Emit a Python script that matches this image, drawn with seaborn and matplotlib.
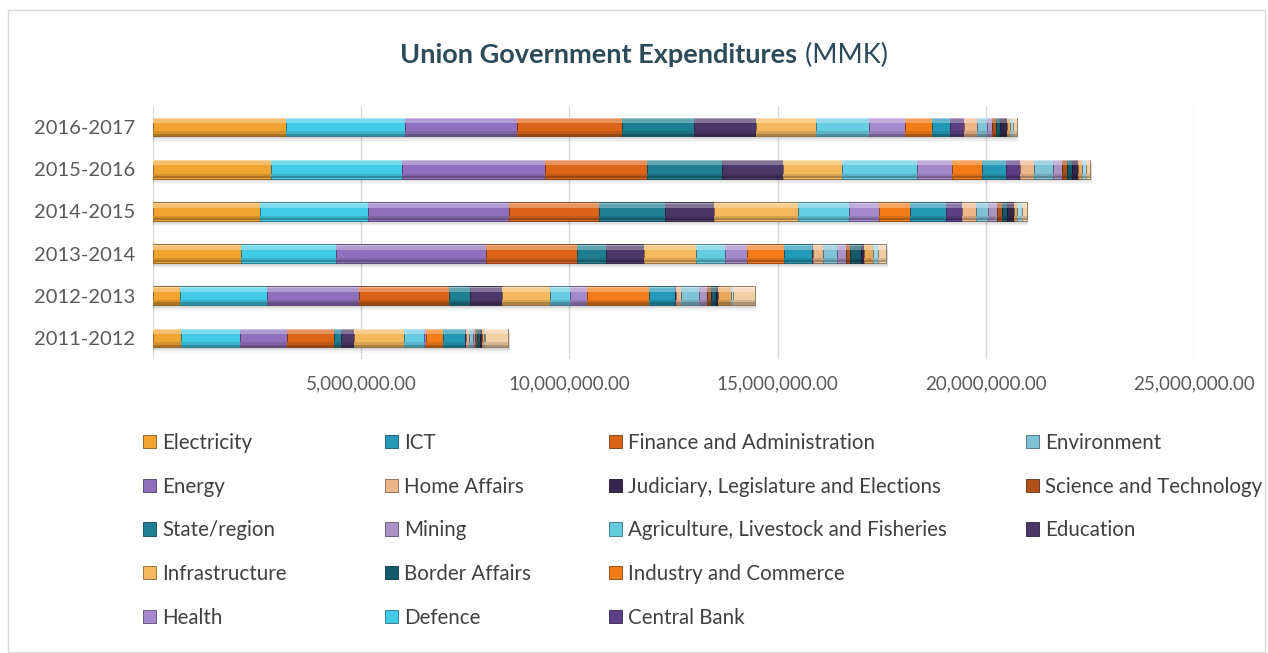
import matplotlib
matplotlib.use("Agg")
import numpy as np
import matplotlib.pyplot as plt
import matplotlib.patches as mpatches
import matplotlib.colors as mcolors
from matplotlib.ticker import FuncFormatter, MultipleLocator
import seaborn as sns

# values in millions of MMK, one entry per fiscal year (bottom to top)
years = ["2011-2012", "2012-2013", "2013-2014", "2014-2015", "2015-2016", "2016-2017"]

electricity = [0.67, 0.64, 2.12, 2.58, 2.84, 3.19]
defence = [1.43, 2.09, 2.27, 2.58, 3.15, 2.87]
energy = [1.11, 2.22, 3.60, 3.39, 3.42, 2.68]
finance = [1.14, 2.16, 2.20, 2.15, 2.45, 2.52]
state_region = [0.17, 0.51, 0.69, 1.60, 1.81, 1.73]
education = [0.31, 0.76, 0.91, 1.18, 1.47, 1.49]
infrastructure = [1.19, 1.16, 1.25, 2.00, 1.40, 1.45]
agriculture = [0.48, 0.48, 0.69, 1.23, 1.80, 1.27]
health = [0.06, 0.41, 0.54, 0.72, 0.84, 0.85]
industry = [0.41, 1.47, 0.88, 0.76, 0.72, 0.66]
ict = [0.53, 0.64, 0.68, 0.86, 0.58, 0.44]
central_bank = [0.02, 0.02, 0.03, 0.39, 0.34, 0.32]
home_affairs = [0.07, 0.13, 0.23, 0.33, 0.33, 0.31]
environment = [0.10, 0.42, 0.34, 0.29, 0.47, 0.24]
mining = [0.05, 0.19, 0.21, 0.22, 0.20, 0.14]
science_tech = [0.04, 0.10, 0.09, 0.10, 0.12, 0.08]
border_affairs = [0.08, 0.12, 0.28, 0.14, 0.12, 0.10]
judiciary = [0.04, 0.04, 0.06, 0.16, 0.16, 0.16]
# small tail segments that have no legend entry in the original
tail_a = [0.04, 0.31, 0.21, 0.08, 0.08, 0.07]
tail_b = [0.04, 0.06, 0.14, 0.12, 0.10, 0.09]
tail_c = [0.55, 0.52, 0.18, 0.10, 0.10, 0.08]

stack = [
    ("Electricity", electricity),
    ("Defence", defence),
    ("Energy", energy),
    ("Finance and Administration", finance),
    ("State/region", state_region),
    ("Education", education),
    ("Infrastructure", infrastructure),
    ("Agriculture, Livestock and Fisheries", agriculture),
    ("Health", health),
    ("Industry and Commerce", industry),
    ("ICT", ict),
    ("Central Bank", central_bank),
    ("Home Affairs", home_affairs),
    ("Environment", environment),
    ("Mining", mining),
    ("Science and Technology", science_tech),
    ("Border Affairs", border_affairs),
    ("Judiciary, Legislature and Elections", judiciary),
    ("_tail_a", tail_a),
    ("_tail_b", tail_b),
    ("_tail_c", tail_c),
]

colors = {
    "Electricity": "#F2A431",
    "Defence": "#42CBE6",
    "Energy": "#9070BC",
    "Finance and Administration": "#DC6418",
    "State/region": "#1F7E92",
    "Education": "#4B3868",
    "Infrastructure": "#F4B95E",
    "Agriculture, Livestock and Fisheries": "#66CCE2",
    "Health": "#A688CC",
    "Industry and Commerce": "#F47C18",
    "ICT": "#2399B6",
    "Central Bank": "#5E3F86",
    "Home Affairs": "#EDB68A",
    "Environment": "#80C2D6",
    "Mining": "#A994C4",
    "Science and Technology": "#B0501A",
    "Border Affairs": "#145A6A",
    "Judiciary, Legislature and Elections": "#34264A",
    "_tail_a": "#E9A85A",
    "_tail_b": "#A2D6E4",
    "_tail_c": "#F3CFA6",
}

legend_cols = [
    ["Electricity", "Energy", "State/region", "Infrastructure", "Health"],
    ["ICT", "Home Affairs", "Mining", "Border Affairs", "Defence"],
    ["Finance and Administration", "Judiciary, Legislature and Elections",
     "Agriculture, Livestock and Fisheries", "Industry and Commerce", "Central Bank"],
    ["Environment", "Science and Technology", "Education"],
]


def mix(c, other, t):
    a = np.array(mcolors.to_rgb(c))
    b = np.array(mcolors.to_rgb(other))
    return tuple(a * (1 - t) + b * t)


sns.set_theme(style="white")
plt.rcParams["font.family"] = ["Lato", "DejaVu Sans"]

fig = plt.figure(figsize=(12.68, 6.53), dpi=100)
ax = fig.add_axes([153 / 1268, 1 - 359 / 653, (1194 - 153) / 1268, 253 / 653])

pos = np.arange(len(years))
H = 0.44

# soft drop shadow under each bar (drawn first, behind)
totals = np.zeros(len(years))
for name, vals in stack:
    totals += np.array(vals)
for k, a in [(0.04, 0.05), (0.07, 0.05), (0.10, 0.04), (0.13, 0.03)]:
    ax.barh(pos - k, totals + 0.04, height=H, color="black", alpha=a,
            linewidth=0, zorder=2)

left = np.zeros(len(years))
for name, vals in stack:
    vals = np.array(vals)
    c = colors[name]
    ax.barh(pos, vals, left=left, height=H, color=c,
            edgecolor=mix(c, "black", 0.45), linewidth=0.6, zorder=3)
    # bevel: light top band, dark bottom band
    ax.barh(pos + H * 0.32, vals, left=left, height=H * 0.22,
            color=mix(c, "white", 0.3), linewidth=0, zorder=4)
    ax.barh(pos + H * 0.45, vals, left=left, height=H * 0.06,
            color=mix(c, "white", 0.55), linewidth=0, zorder=4)
    ax.barh(pos - H * 0.30, vals, left=left, height=H * 0.14,
            color=mix(c, "black", 0.12), linewidth=0, zorder=4)
    ax.barh(pos - H * 0.42, vals, left=left, height=H * 0.12,
            color=mix(c, "black", 0.3), linewidth=0, zorder=4)
    left += vals

ax.set_xlim(0, 25)
ax.set_ylim(-0.5, len(years) - 0.5)
ax.xaxis.set_major_locator(MultipleLocator(5))
ax.xaxis.set_major_formatter(FuncFormatter(lambda v, _: "" if v == 0 else f"{v * 1e6:,.2f}"))
ax.set_yticks(pos)
ax.set_yticklabels(years)
ax.tick_params(axis="both", length=0, labelcolor="#595959")
ax.tick_params(axis="y", pad=13, labelsize=14.5)
ax.tick_params(axis="x", pad=12, labelsize=13.5)
ax.grid(True, axis="x", color="#D9D9D9", linewidth=1, zorder=0)
ax.grid(False, axis="y")
ax.set_axisbelow(True)
sns.despine(ax=ax, left=True, bottom=True)

# legend, four columns placed like the original
col_x = [143, 385, 609, 1026]
for xs, names in zip(col_x, legend_cols):
    handles = [mpatches.Patch(facecolor=colors[n], edgecolor=mix(colors[n], "black", 0.45),
                              linewidth=0.6, label=n) for n in names]
    leg = fig.legend(handles=handles, loc="upper left",
                     bbox_to_anchor=(xs / 1268, 1 - 433 / 653),
                     frameon=False, fontsize=14.8, handlelength=0.62, handleheight=0.62,
                     handletextpad=0.3, labelspacing=1.15, borderaxespad=0, borderpad=0)
    for t in leg.get_texts():
        t.set_color("#404040")

# title: bold part + regular part
title_color = "#2B4A5A"
fig.canvas.draw()
r = fig.canvas.get_renderer()
t1 = fig.text(0, 1 - 55 / 653, "Union Government Expenditures", fontsize=19.5,
              fontweight="bold", color=title_color, va="center", ha="left")
t2 = fig.text(0, 1 - 55 / 653, " (MMK)", fontsize=19.5, color=title_color,
              va="center", ha="left")
w1 = t1.get_window_extent(r).width
w2 = t2.get_window_extent(r).width
x0 = 644 - (w1 + w2) / 2
t1.set_x(x0 / 1268)
t2.set_x((x0 + w1) / 1268)

# outer chart border
fig.patches.append(mpatches.Rectangle((8 / 1268, 0.002), (1265 - 8) / 1268, 0.983,
                                      transform=fig.transFigure, fill=False,
                                      edgecolor="#D9D9D9", linewidth=1))

fig.savefig("out.png", dpi=100)
